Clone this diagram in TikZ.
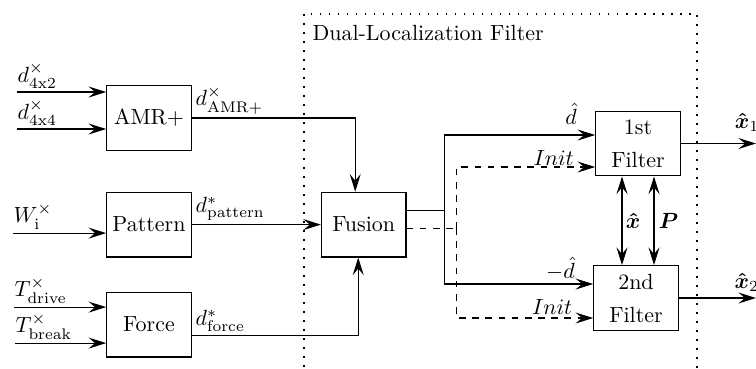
\documentclass[tikz,border=0pt]{standalone}
\usepackage{amsmath,amssymb}
\usepackage{tikz}
\usetikzlibrary{arrows.meta,positioning,calc}

\begin{document}
\begin{tikzpicture}[
  x=0.455pt, y=-0.455pt,
  line width=0.5pt,
  block/.style={draw, align=center, minimum width=38.5pt, minimum height=29.5pt, inner sep=1pt},
  ar/.style={-{Stealth[length=8pt, width=5pt, inset=3pt]}},
  dar/.style={{Stealth[length=8pt, width=5pt, inset=3pt]}-{Stealth[length=8pt, width=5pt, inset=3pt]}},
  lbl/.style={inner sep=1.5pt},
  frame/.style={dash pattern=on 0.7pt off 3.4pt, line width=0.7pt}
]
\useasboundingbox (0,0) rectangle (756,368);

\draw[frame] (304,14) rectangle (697,400);
\node[anchor=base west, inner sep=0pt] (title) at (312,40) {Dual-Localization Filter};

\node[block] (amr) at (149,118) {AMR+};
\node[block, below=18.5pt of amr] (pattern) {Pattern};
\node[block, below=15.5pt of pattern] (force) {Force};
\node[block, right=58.7pt of pattern] (fusion) {Fusion};
\node[block] (filterA) at (638,143.5) {1st\\[3pt]Filter};
\node[block] (filterB) at (636,298) {2nd\\[3pt]Filter};

\coordinate (i42) at ($(amr.west)+(-89,-26)$);
\coordinate (i44) at ($(amr.west)+(-89,11)$);
\coordinate (iw) at ($(pattern.west)+(-93,8.5)$);
\coordinate (idrv) at ($(force.west)+(-92,-17.5)$);
\coordinate (ibrk) at ($(force.west)+(-91,18.5)$);

\draw[ar] (i42) node[above right, lbl, inner xsep=0pt] {$d^{\times}_{\mathrm{4x2}}$} -- (i42 -| amr.west);
\draw[ar] (i44) node[above right, lbl, inner xsep=0pt] {$d^{\times}_{\mathrm{4x4}}$} -- (i44 -| amr.west);
\draw[ar] (iw) node[above right, lbl, inner xsep=0pt] {$W^{\times}_{\mathrm{i}}$} -- (iw -| pattern.west);
\draw[ar] (idrv) node[above right, lbl, inner xsep=0pt] {$T^{\times}_{\mathrm{drive}}$} -- (idrv -| force.west);
\draw[ar] (ibrk) node[above right, lbl, inner xsep=0pt] {$T^{\times}_{\mathrm{break}}$} -- (ibrk -| force.west);

\draw[ar] (amr.east) node[above right, lbl] {$d^{\times}_{\mathrm{AMR+}}$} -| ($(fusion.north)+(-8.5,0)$);
\draw[ar] (pattern) -- node[pos=0, above right, lbl] {$d^{*}_{\mathrm{pattern}}$} (fusion);
\draw[ar] ($(force.east)+(0,10.5)$) node[above right, lbl] {$d^{*}_{\mathrm{force}}$} -| ($(fusion.south)+(-5.5,0)$);

\coordinate (ta) at ($(filterA.west)+(0,-8.5)$);
\coordinate (tb) at ($(filterB.west)+(0,-14)$);
\coordinate (ia) at ($(filterA.west)+(0,23.5)$);
\coordinate (ib) at ($(filterB.west)+(0,20)$);

\draw ($(fusion.east)+(0,-14)$) -- ++(38,0) coordinate (js);
\draw[dashed] ($(fusion.east)+(0,3.5)$) -- ++(50,0) coordinate (jd);
\draw[ar] (js) |- node[pos=0.92, above, lbl, yshift=3pt] {$\hat{d}$} (ta);
\draw[ar] (js) |- node[pos=0.89, above, lbl] {$-\hat{d}$} (tb);
\draw[ar, dashed] (jd) |- node[pos=0.85, above, lbl, inner ysep=0.5pt] {$Init$} (ia);
\draw[ar, dashed] (jd) |- node[pos=0.85, above, lbl] {$Init$} (ib);

\coordinate (xa) at (622,0);
\coordinate (xb) at (654,0);
\draw[dar] (filterA.south -| xa) -- node[right, lbl] {$\boldsymbol{\hat{x}}$} (filterB.north -| xa);
\draw[dar] (filterA.south -| xb) -- node[right, lbl, inner xsep=2pt] {$\boldsymbol{P}$} (filterB.north -| xb);

\coordinate (xr) at (756,0);
\draw[ar] (filterA.east) -- node[pos=0.88, above, lbl, inner ysep=5pt] {$\boldsymbol{\hat{x}}_{1}$} (filterA.east -| xr);
\draw[ar] (filterB.east) -- node[pos=0.88, above, lbl, inner ysep=2.5pt] {$\boldsymbol{\hat{x}}_{2}$} (filterB.east -| xr);
\end{tikzpicture}
\end{document}
